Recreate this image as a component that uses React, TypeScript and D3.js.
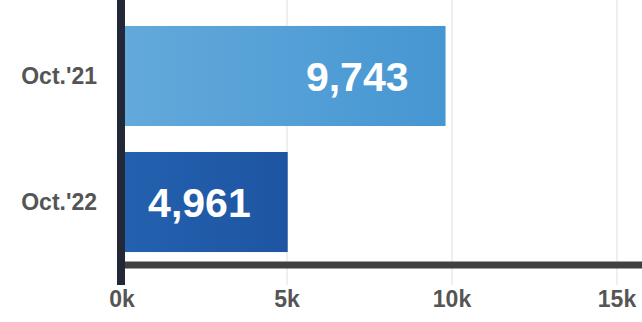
import React from "react";
import * as d3 from "d3";

const categories = ["Oct.'21", "Oct.'22"];
const values = [9743, 4961];
const tickValues = [0, 5000, 10000, 15000];
const tickLabels = ["0k", "5k", "10k", "15k"];
const gradients = [
  ["#63AADB", "#4696D2"],
  ["#2361AF", "#1E55A2"],
];

const W = 642;
const H = 322;

export default function App() {
  const x = d3.scaleLinear().domain([0, 15000]).range([122, 617]);
  const y = d3.scaleBand().domain(categories).range([0, 278]).paddingInner(0.206).paddingOuter(0.206);
  const fmt = d3.format(",");
  return (
    <svg
      width={W}
      height={H}
      style={{ position: "absolute", left: 0, top: 0, background: "#fff" }}
      fontFamily="'Liberation Sans', Arial, sans-serif"
    >
      <defs>
        {gradients.map((g, i) => (
          <linearGradient key={i} id={`g${i}`} x1="0" x2="1" y1="0" y2="0">
            <stop offset="0%" stopColor={g[0]} />
            <stop offset="100%" stopColor={g[1]} />
          </linearGradient>
        ))}
      </defs>
      {tickValues.slice(1).map((t) => (
        <line key={t} x1={x(t)} x2={x(t)} y1={0} y2={285} stroke="#EAEAEA" strokeWidth={1.5} />
      ))}
      {categories.map((c, i) => (
        <g key={c}>
          <rect
            x={x(0)}
            y={y(c)}
            width={x(values[i]) - x(0) + 2}
            height={y.bandwidth()}
            fill={`url(#g${i})`}
          />
          <text
            x={x(values[i]) - 35}
            y={y(c)! + y.bandwidth() / 2}
            dy="0.36em"
            textAnchor="end"
            fill="#fff"
            fontWeight="bold"
            fontSize={41}
          >
            {fmt(values[i])}
          </text>
          <text
            x={97}
            y={y(c)! + y.bandwidth() / 2}
            dy="0.36em"
            textAnchor="end"
            fill="#555"
            fontWeight="bold"
            fontSize={23}
          >
            {c}
          </text>
        </g>
      ))}
      <line x1={120} x2={W} y1={265} y2={265} stroke="#404040" strokeWidth={7} />
      <line x1={121} x2={121} y1={0} y2={285} stroke="#222838" strokeWidth={8} />
      {tickValues.map((t, i) => (
        <text
          key={t}
          x={x(t)}
          y={307}
          textAnchor="middle"
          fill="#555"
          fontWeight="bold"
          fontSize={23}
        >
          {tickLabels[i]}
        </text>
      ))}
    </svg>
  );
}
